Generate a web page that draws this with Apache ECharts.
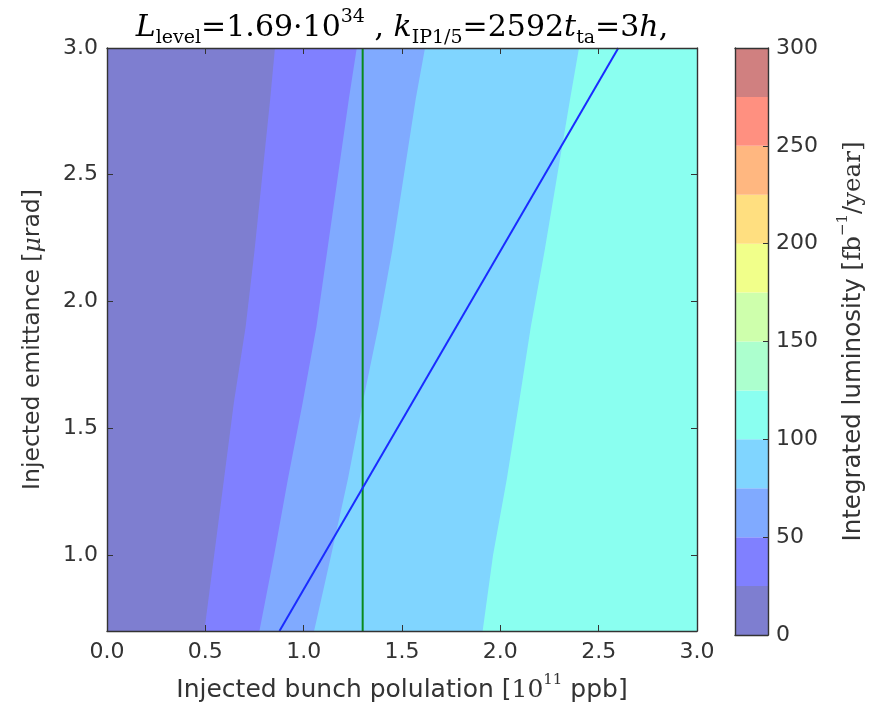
<!DOCTYPE html>
<html><head><meta charset="utf-8">
<script src="https://cdn.jsdelivr.net/npm/echarts@6/dist/echarts.min.js"></script>
<style>html,body{margin:0;padding:0;background:#fff}#c{width:881px;height:708px}</style>
</head><body><div id="c"></div>
<script>
// ---- data ----
const emittance  = [0.7, 1.0, 1.3, 1.6, 1.9, 2.2, 2.5, 2.8, 3.0];          // y values of the contour samples
const contour25  = [0.495, 0.545, 0.595, 0.645, 0.705, 0.750, 0.790, 0.830, 0.854];
const contour50  = [0.775, 0.850, 0.920, 0.995, 1.065, 1.120, 1.175, 1.230, 1.270];
const contour75  = [1.053, 1.140, 1.225, 1.300, 1.380, 1.450, 1.510, 1.570, 1.617];
const contour100 = [1.910, 1.963, 2.033, 2.095, 2.155, 2.225, 2.290, 2.355, 2.400];
const levels = [0, 25, 50, 75, 100, 125, 150, 175, 200, 225, 250, 275, 300];
const xTicks = [0.0, 0.5, 1.0, 1.5, 2.0, 2.5, 3.0];
const yTicks = [1.0, 1.5, 2.0, 2.5, 3.0];
const cbTicks = [0, 50, 100, 150, 200, 250, 300];
const nominalPopulation = 1.3;
const workingLineX = [0.877, 2.6];
const workingLineY = [0.7, 3.0];

// ---- styles ----
const bandColors = ['#7e7ed0','#8080ff','#80aaff','#80d5ff','#8afff0','#acffce',
                    '#ceffac','#f1ff8a','#ffdf80','#ffb780','#ff9080','#d08080'];
const X_MIN = 0, X_MAX = 3, Y_MIN = 0.7, Y_MAX = 3.0;
const frame = '#333';
const tickFont = {fontFamily: 'DejaVu Sans', fontSize: 22, color: '#333'};

const regions = [
  {band: 4, edge: emittance.map(() => X_MAX)},
  {band: 3, edge: contour100},
  {band: 2, edge: contour75},
  {band: 1, edge: contour50},
  {band: 0, edge: contour25}
];

const chart = echarts.init(document.getElementById('c'), null, {renderer: 'canvas'});

function axisCommon(extra) {
  return Object.assign({
    type: 'value', z: 10,
    splitLine: {show: false},
    axisLine: {show: true, onZero: false, lineStyle: {color: frame, width: 1.4}},
  }, extra);
}
function richLabel(fs) {
  return {
    t: {fontFamily: 'DejaVu Sans', fontSize: fs, color: '#333', lineHeight: 30, verticalAlign: 'bottom'},
    s: {fontFamily: 'DejaVu Serif', fontSize: fs, color: '#333', lineHeight: 30, verticalAlign: 'bottom'},
    m: {fontFamily: 'DejaVu Serif', fontStyle: 'italic', fontSize: fs, color: '#333', lineHeight: 30, verticalAlign: 'bottom'},
    sup: {fontFamily: 'DejaVu Serif', fontSize: 15, color: '#333', lineHeight: 15, verticalAlign: 'top'}
  };
}

const option = {
  animation: false,
  backgroundColor: '#fff',
  grid: [
    {left: 107, top: 48, width: 590, height: 587},
    {left: 735, top: 48, width: 33, height: 587}
  ],
  xAxis: [
    axisCommon({gridIndex: 0, min: X_MIN, max: X_MAX, interval: 0.5, position: 'bottom',
      axisLabel: Object.assign({margin: 10, formatter: v => v.toFixed(1), customValues: xTicks}, tickFont),
      axisTick: {show: true, inside: true, length: 6, customValues: xTicks, lineStyle: {color: frame}},
      name: '{t|Injected bunch polulation [}{s|10}{sup|11}{t| ppb]}',
      nameLocation: 'middle', nameGap: 42,
      nameTextStyle: {rich: richLabel(25)}}),
    axisCommon({gridIndex: 0, min: X_MIN, max: X_MAX, interval: 0.5, position: 'top',
      axisLabel: {show: false},
      axisTick: {show: true, inside: true, length: 6, customValues: xTicks, lineStyle: {color: frame}}}),
    {type: 'value', gridIndex: 1, min: 0, max: 1, show: true, position: 'bottom', z: 10,
      axisLine: {show: true, onZero: false, lineStyle: {color: frame, width: 1.4}},
      axisTick: {show: false}, axisLabel: {show: false}, splitLine: {show: false}},
    {type: 'value', gridIndex: 1, min: 0, max: 1, show: true, position: 'top', z: 10,
      axisLine: {show: true, onZero: false, lineStyle: {color: frame, width: 1.4}},
      axisTick: {show: false}, axisLabel: {show: false}, splitLine: {show: false}}
  ],
  yAxis: [
    axisCommon({gridIndex: 0, min: Y_MIN, max: Y_MAX, position: 'left',
      axisLabel: Object.assign({margin: 9, formatter: v => v.toFixed(1), customValues: yTicks}, tickFont),
      axisTick: {show: true, inside: true, length: 6, customValues: yTicks, lineStyle: {color: frame}},
      name: '{t|Injected emittance [}{m|μ}{t|rad]}',
      nameLocation: 'middle', nameGap: 62, nameRotate: 90,
      nameTextStyle: {rich: richLabel(23.5)}}),
    axisCommon({gridIndex: 0, min: Y_MIN, max: Y_MAX, position: 'right',
      axisLabel: {show: false},
      axisTick: {show: true, inside: true, length: 6, customValues: yTicks, lineStyle: {color: frame}}}),
    {type: 'value', gridIndex: 1, min: 0, max: 300, position: 'left', z: 10,
      axisLine: {show: true, onZero: false, lineStyle: {color: frame, width: 1.4}},
      axisTick: {show: false}, axisLabel: {show: false}, splitLine: {show: false}},
    {type: 'value', gridIndex: 1, min: 0, max: 300, interval: 50, position: 'right', z: 10,
      axisLine: {show: true, onZero: false, lineStyle: {color: frame, width: 1.4}},
      axisTick: {show: true, inside: true, length: 5, lineStyle: {color: frame}},
      axisLabel: Object.assign({margin: 8, customValues: cbTicks}, tickFont),
      splitLine: {show: false},
      name: '{t|Integrated luminosity [}{s|fb}{sup|−1}{s|/year]}',
      nameLocation: 'middle', nameGap: 68, nameRotate: 90,
      nameTextStyle: {rich: richLabel(24.5)}}
  ],
  graphic: [{
    type: 'text', x: 402, y: 28, z: 100,
    style: {
      text: '{i|L}{sub|level}{r|=1.69·10}{sup|34}{r| , }{i|k}{sub|IP1/5}{r|=2592}{i|t}{sub|ta}{r|=3}{i|h}{r|,}',
      align: 'center', verticalAlign: 'middle',
      rich: {
        r: {fontFamily: 'DejaVu Serif', fontSize: 30, color: '#222', lineHeight: 40, verticalAlign: 'middle'},
        i: {fontFamily: 'DejaVu Serif', fontStyle: 'italic', fontSize: 30, color: '#222', lineHeight: 40, verticalAlign: 'middle'},
        sub: {fontFamily: 'DejaVu Serif', fontSize: 19, color: '#222', lineHeight: 17, verticalAlign: 'bottom'},
        sup: {fontFamily: 'DejaVu Serif', fontSize: 19, color: '#222', lineHeight: 19, verticalAlign: 'top'}
      }
    }
  }],
  series: [
    {
      type: 'custom', xAxisIndex: 0, yAxisIndex: 0, clip: true, z: 1,
      data: regions.map((r, i) => [i]),
      renderItem: function (params, api) {
        const r = regions[params.dataIndex];
        const pts = [api.coord([X_MIN, Y_MIN])];
        for (let k = 0; k < emittance.length; k++) pts.push(api.coord([r.edge[k], emittance[k]]));
        pts.push(api.coord([X_MIN, Y_MAX]));
        return {type: 'polygon', shape: {points: pts},
                style: {fill: bandColors[r.band], stroke: null}};
      }
    },
    {
      type: 'line', xAxisIndex: 0, yAxisIndex: 0, z: 5, symbol: 'none', silent: true,
      data: [[nominalPopulation, Y_MIN], [nominalPopulation, Y_MAX]],
      lineStyle: {color: '#0a8a1e', width: 2}
    },
    {
      type: 'line', xAxisIndex: 0, yAxisIndex: 0, z: 5, symbol: 'none', silent: true,
      data: workingLineX.map((x, i) => [x, workingLineY[i]]),
      lineStyle: {color: '#1a2cff', width: 2}
    },
    {
      type: 'custom', xAxisIndex: 2, yAxisIndex: 2, clip: true, z: 1,
      data: levels.slice(0, -1).map((lo, i) => [lo, levels[i + 1]]),
      renderItem: function (params, api) {
        const p0 = api.coord([0, api.value(0)]);
        const p1 = api.coord([1, api.value(1)]);
        return {type: 'rect', shape: {x: p0[0], y: p1[1], width: p1[0] - p0[0], height: p0[1] - p1[1]},
                style: {fill: bandColors[params.dataIndex], stroke: null}};
      }
    }
  ]
};
chart.setOption(option);
</script>
</body></html>
